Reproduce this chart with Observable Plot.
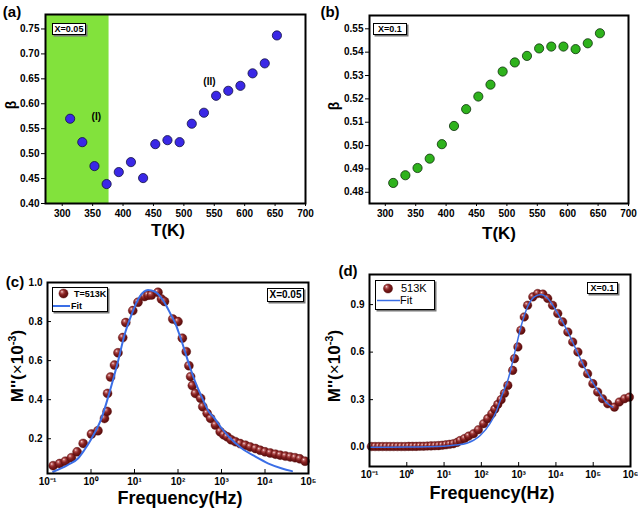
<!DOCTYPE html>
<html><head><meta charset="utf-8">
<script src="https://cdn.jsdelivr.net/npm/d3@7"></script>
<script src="https://cdn.jsdelivr.net/npm/@observablehq/plot@0.6"></script>
<style>
body{margin:0;background:#fff;}
#wrap{position:relative;width:638px;height:511px;overflow:hidden;font-family:"Liberation Sans",Arial,sans-serif;color:#000;}
.t{position:absolute;font-weight:bold;white-space:nowrap;line-height:1;transform:translate(-50%,-50%);}
.r{transform:translate(-50%,-50%) rotate(-90deg);}
.box{position:absolute;box-sizing:border-box;border:1px solid #000;box-shadow:1.5px 1.5px 0 #777;background:#fff;font-weight:bold;line-height:1;display:flex;align-items:center;justify-content:center;white-space:nowrap;}
.leg{position:absolute;box-sizing:border-box;border:1px solid #000;box-shadow:1.5px 1.5px 0 #777;background:#fff;}
sup{font-size:0.65em;vertical-align:0.55em;line-height:0;}
</style></head><body>
<svg width="0" height="0" style="position:absolute"><defs>
<radialGradient id="ball" cx="0.4" cy="0.38" r="0.62" fx="0.33" fy="0.3">
<stop offset="0" stop-color="#f6e0e0"/><stop offset="0.22" stop-color="#b85a5a"/><stop offset="0.5" stop-color="#852020"/><stop offset="1" stop-color="#560a0a"/>
</radialGradient></defs></svg>
<div id="wrap"></div>
<script>
// ---- Panel (a): x = 0.05
const tempA = [313,333,353,373,393,413,433,453,473,493,513,533,553,573,593,613,633,653];
const betaA = [0.570,0.523,0.475,0.439,0.463,0.483,0.451,0.519,0.527,0.523,0.560,0.582,0.616,0.626,0.636,0.661,0.681,0.737];
const regionSpanA = [272.5, 377];
const regionLabels = ["(I)", "(II)"];
const regionLabelT = [356, 542];
const regionLabelBeta = [0.574, 0.644];
const yTicksA = [0.40,0.45,0.50,0.55,0.60,0.65,0.70,0.75];
// ---- Panel (b): x = 0.1
const tempB = [313,333,353,373,393,413,433,453,473,493,513,533,553,573,593,613,633,653];
const betaB = [0.4840,0.4873,0.4904,0.4944,0.5006,0.5084,0.5156,0.5210,0.5261,0.5317,0.5356,0.5384,0.5416,0.5424,0.5424,0.5413,0.5438,0.5481];
const yTicksB = [0.48,0.49,0.50,0.51,0.52,0.53,0.54,0.55];
const tTicks = [300,350,400,450,500,550,600,650,700];
// ---- Panel (c): M'' vs frequency, x = 0.05, T = 513 K (log10 of Hz)
const logFreqC = [-0.87,-0.72,-0.59,-0.45,-0.32,-0.18,0.01,0.16,0.31,0.37,0.38,0.45,0.54,0.62,0.73,0.80,0.96,1.08,1.23,1.31,1.39,1.54,1.62,1.69,1.88,2.0,2.10,2.19,2.25,2.29,2.33,2.40,2.52,2.57,2.67,2.75,2.86,2.97,3.05,3.13,3.22,3.32,3.43,3.55,3.66,3.78,3.89,4.0,4.12,4.24,4.35,4.47,4.58,4.69,4.80,4.92];
const mC = [0.062,0.073,0.085,0.103,0.133,0.176,0.224,0.241,0.304,0.34,0.432,0.516,0.577,0.64,0.718,0.795,0.856,0.899,0.928,0.935,0.936,0.950,0.915,0.903,0.813,0.80,0.715,0.646,0.574,0.518,0.472,0.432,0.407,0.364,0.330,0.304,0.270,0.236,0.22,0.21,0.195,0.185,0.175,0.167,0.158,0.150,0.141,0.133,0.127,0.121,0.116,0.111,0.107,0.103,0.097,0.085];
const logFitFreqC = [-0.87,-0.54,-0.30,-0.16,0.01,0.24,0.43,0.62,0.77,0.93,1.12,1.31,1.46,1.65,1.84,1.94,2.03,2.12,2.27,2.42,2.56,2.71,2.82,3.0,3.17,3.47,3.78,4.08,4.39,4.62];
const fitC = [0.031,0.065,0.099,0.14,0.20,0.304,0.441,0.595,0.731,0.834,0.928,0.962,0.954,0.911,0.834,0.79,0.735,0.675,0.57,0.478,0.407,0.338,0.31,0.255,0.21,0.15,0.108,0.073,0.048,0.034];
const yTicksC = [0.2,0.4,0.6,0.8,1.0];
const freqTicksC = [0.1,1,10,100,1000,10000,100000];
// ---- Panel (d): x = 0.1, 513 K
const logFreqD = [-0.95,-0.85,-0.75,-0.65,-0.55,-0.45,-0.35,-0.25,-0.15,-0.05,0.05,0.15,0.25,0.35,0.45,0.55,0.65,0.75,0.85,0.95,1.05,1.15,1.25,1.35,1.43,1.55,1.66,1.79,1.92,2.06,2.17,2.28,2.36,2.44,2.53,2.62,2.71,2.84,2.89,2.98,3.06,3.15,3.24,3.38,3.51,3.65,3.78,3.91,4.05,4.18,4.32,4.45,4.59,4.72,4.85,4.99,5.12,5.25,5.39,5.57,5.70,5.84,5.97];
const mD = [0.004,0.004,0.004,0.004,0.004,0.004,0.004,0.004,0.004,0.004,0.005,0.005,0.005,0.006,0.006,0.007,0.008,0.009,0.010,0.012,0.015,0.018,0.022,0.03,0.042,0.055,0.07,0.085,0.11,0.148,0.18,0.211,0.24,0.27,0.30,0.34,0.39,0.485,0.559,0.633,0.738,0.822,0.896,0.949,0.970,0.966,0.939,0.896,0.844,0.791,0.727,0.664,0.601,0.527,0.464,0.401,0.348,0.306,0.274,0.253,0.285,0.306,0.316];
const logFitFreqD = [-1,0,1,1.3,1.61,1.97,2.23,2.41,2.57,2.71,2.89,3.06,3.24,3.42,3.60,3.78,4.05,4.32,4.59,4.85,5.12,5.34,5.52];
const fitD = [0,0.001,0.006,0.013,0.025,0.074,0.148,0.232,0.338,0.422,0.591,0.759,0.886,0.949,0.964,0.939,0.844,0.727,0.591,0.464,0.359,0.285,0.253];
const yTicksD = [0.0,0.3,0.6,0.9];
const freqTicksD = [0.1,1,10,100,1000,10000,100000,1000000];

const wrap = document.getElementById("wrap");
const FONT = '"Liberation Sans", Arial, sans-serif';
const supMap = {"-":"\u207B","0":"\u2070","1":"\u00B9","2":"\u00B2","3":"\u00B3","4":"\u2074","5":"\u2075","6":"\u2076"};
const powFmt = d => "10" + String(Math.round(Math.log10(d))).split("").map(c => supMap[c]).join("");
const fitBlue = "#3a6ee6";

function place(opts, left, top) {
  const svg = Plot.plot({
    ...opts,
    style: {position:"absolute", left: left+"px", top: top+"px", fontFamily: FONT, fontSize: "10px", fontWeight: "bold", background: "transparent", overflow: "visible", color: "#000"}
  });
  wrap.appendChild(svg);
}

// (a)
place({
  width: 319, height: 250, marginLeft: 45, marginRight: 14, marginTop: 14, marginBottom: 47,
  x: {domain: [272.5, 700]}, y: {domain: [0.40, 0.779]},
  marks: [
    Plot.rect([regionSpanA], {x1: d => d[0], x2: d => d[1], fill: "#82e23c"}),
    Plot.axisY({ticks: yTicksA, tickFormat: ".2f", tickSize: 4, tickPadding: 2, label: null}),
    Plot.axisX({ticks: tTicks, tickSize: 3, tickPadding: 3, label: null}),
    Plot.dot(tempA.map((t, i) => ({t, b: betaA[i]})), {x: "t", y: "b", r: 4.6, fill: "#3a28e6", stroke: "#121040", strokeWidth: 0.8}),
    Plot.text(regionLabels.map((s, i) => ({s, t: regionLabelT[i], b: regionLabelBeta[i]})), {x: "t", y: "b", text: "s", fontSize: 10, fontWeight: "bold"}),
    Plot.frame({stroke: "#000", strokeWidth: 2})
  ]
}, 0, 0);

// (b)
place({
  width: 319, height: 250, marginLeft: 50, marginRight: 10, marginTop: 15, marginBottom: 47,
  x: {domain: [274, 700]}, y: {domain: [0.4752, 0.5557]},
  marks: [
    Plot.axisY({ticks: yTicksB, tickFormat: ".2f", tickSize: 4, tickPadding: 2, label: null}),
    Plot.axisX({ticks: tTicks, tickSize: 3, tickPadding: 3, label: null}),
    Plot.dot(tempB.map((t, i) => ({t, b: betaB[i]})), {x: "t", y: "b", r: 4.6, fill: "#2eb21c", stroke: "#0d300a", strokeWidth: 0.8}),
    Plot.frame({stroke: "#000", strokeWidth: 2})
  ]
}, 319, 0);

// (c)
place({
  width: 319, height: 261, marginLeft: 47, marginRight: 11, marginTop: 32, marginBottom: 38,
  x: {type: "log", domain: [0.1, 1e5]}, y: {domain: [0.022, 1.0]},
  marks: [
    Plot.axisY({ticks: yTicksC, tickFormat: ".1f", tickSize: -4, tickPadding: 9, label: null}),
    Plot.axisX({ticks: freqTicksC, tickFormat: powFmt, tickSize: -4, tickPadding: 8, label: null}),
    Plot.dot(logFreqC.map((lf, i) => ({f: 10 ** lf, m: mC[i]})), {x: "f", y: "m", r: 4.5, fill: "url(#ball)", stroke: "#5a1010", strokeWidth: 0.4}),
    Plot.line(logFitFreqC.map((lf, i) => ({f: 10 ** lf, m: fitC[i]})), {x: "f", y: "m", stroke: fitBlue, strokeWidth: 2, curve: "monotone-x"}),
    Plot.frame({stroke: "#000", strokeWidth: 2})
  ]
}, 0, 250);

// (d)
place({
  width: 319, height: 261, marginLeft: 50, marginRight: 8, marginTop: 24, marginBottom: 45,
  x: {type: "log", domain: [0.1, 1e6]}, y: {domain: [-0.122, 1.09]},
  marks: [
    Plot.axisY({ticks: yTicksD, tickFormat: ".1f", tickSize: -4, tickPadding: 9, label: null}),
    Plot.axisX({ticks: freqTicksD, tickFormat: powFmt, tickSize: -4, tickPadding: 8, label: null}),
    Plot.dot(logFreqD.map((lf, i) => ({f: 10 ** lf, m: mD[i]})), {x: "f", y: "m", r: 4.3, fill: "url(#ball)", stroke: "#5a1010", strokeWidth: 0.4}),
    Plot.line(logFitFreqD.map((lf, i) => ({f: 10 ** lf, m: fitD[i]})), {x: "f", y: "m", stroke: fitBlue, strokeWidth: 1.5, curve: "monotone-x"}),
    Plot.frame({stroke: "#000", strokeWidth: 2})
  ]
}, 319, 250);

// ---- Text overlays
function txt(html, x, y, size, extra = "", cls = "t") {
  const d = document.createElement("div");
  d.className = cls;
  d.style.left = x + "px"; d.style.top = y + "px"; d.style.fontSize = size + "px";
  if (extra) d.style.cssText += extra;
  d.innerHTML = html;
  wrap.appendChild(d);
}
txt("(a)", 12, 10.5, 15);
txt("(b)", 330, 10.5, 15);
txt("(c)", 15, 280.5, 15);
txt("(d)", 348, 270, 15);
txt("\u03B2", 11, 105, 14, "", "t r");
txt("\u03B2", 334, 106, 14, "", "t r");
txt("T(K)", 168, 230, 17);
txt("T(K)", 499, 233, 17);
txt("M''(<span style='font-weight:normal'>\u00D7</span>10<sup>-3</sup>)", 17, 366, 17, "", "t r");
txt("M''(<span style='font-weight:normal'>\u00D7</span>10<sup>-3</sup>)", 334, 366, 17, "", "t r");
txt("Frequency(Hz)", 180, 498, 18);
txt("Frequency(Hz)", 492, 493, 18);

function box(label, l, t, w, h, size) {
  const d = document.createElement("div");
  d.className = "box";
  d.style.cssText += `left:${l}px;top:${t}px;width:${w}px;height:${h}px;font-size:${size}px;`;
  d.textContent = label;
  wrap.appendChild(d);
}
box("X=0.05", 52, 23, 34, 12, 9);
box("X=0.1", 373, 23, 34, 12, 9);
box("X=0.05", 267, 288, 37, 14, 10);
box("X=0.1", 587, 282, 31, 12, 9);

function legend(l, t, w, h, mx, my, label, tx, lx1, lx2, ly, fx, bold, size, lw) {
  const d = document.createElement("div");
  d.className = "leg";
  d.style.cssText += `left:${l}px;top:${t}px;width:${w}px;height:${h}px;`;
  const fw = bold ? "bold" : "normal";
  d.innerHTML = `<svg width="${w}" height="${h}" style="position:absolute;left:-1px;top:-1px;font-family:${FONT.replace(/"/g, "'")}">
    <circle cx="${mx}" cy="${my}" r="4.6" fill="url(#ball)" stroke="#5a1010" stroke-width="0.4"/>
    <text x="${tx}" y="${my}" dy="0.35em" font-size="${size}" font-weight="${fw}">${label}</text>
    <line x1="${lx1}" x2="${lx2}" y1="${ly}" y2="${ly}" stroke="${fitBlue}" stroke-width="${lw}"/>
    <text x="${fx}" y="${ly}" dy="0.35em" font-size="${size}" font-weight="${fw}">Fit</text></svg>`;
  wrap.appendChild(d);
}
legend(52, 287, 56, 25, 11.5, 6.5, "T=513K", 22, 1, 18, 19, 19, true, 9, 2);
legend(375, 280, 60, 30, 13, 8.5, "513K", 26, 2, 25, 20.5, 25, false, 11, 1.5);
</script>
</body></html>
